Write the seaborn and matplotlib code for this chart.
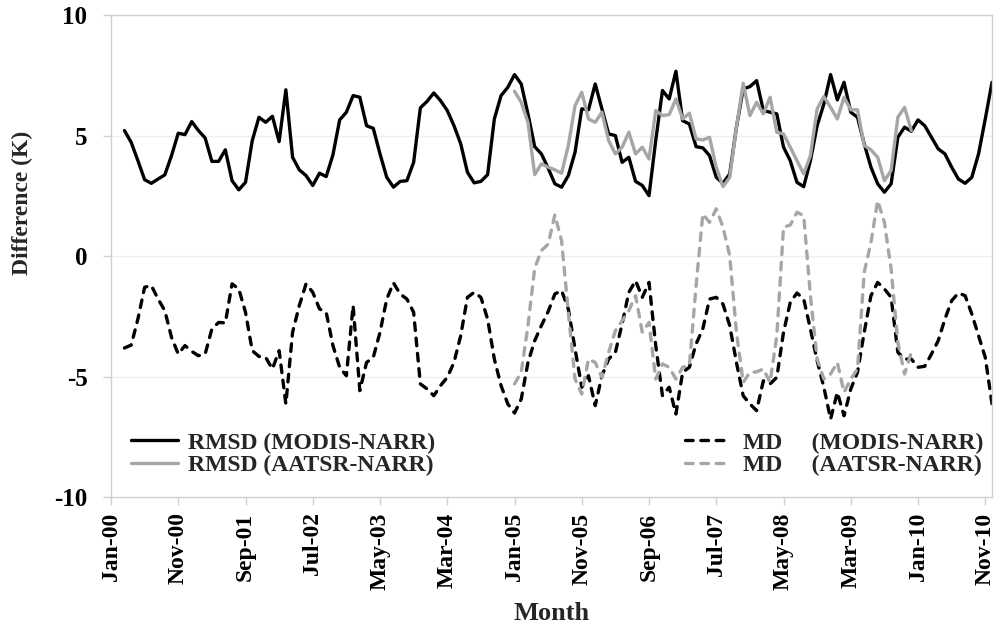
import numpy as np
import pandas as pd
import seaborn as sns
import matplotlib.pyplot as plt

# month index 0 = Jan-00, 131 = Dec-10
tick_pos = list(range(0, 131, 10))
tick_labels = ["Jan-00", "Nov-00", "Sep-01", "Jul-02", "May-03", "Mar-04", "Jan-05",
               "Nov-05", "Sep-06", "Jul-07", "May-08", "Mar-09", "Jan-10", "Nov-10"]

# MODIS series: Mar-00 .. Dec-10
modis_start = 2
modis_rmsd = [5.21, 4.72, 3.96, 3.17, 3.02, 3.20, 3.37, 4.17, 5.10, 5.04,
              5.58, 5.21, 4.90, 3.93, 3.93, 4.41, 3.13, 2.75, 3.06, 4.79,
              5.76, 5.55, 5.80, 4.75, 6.90, 4.10, 3.58, 3.34, 2.93, 3.44,
              3.30, 4.20, 5.65, 5.97, 6.66, 6.59, 5.41, 5.30, 4.24, 3.27,
              2.86, 3.10, 3.13, 3.89, 6.15, 6.42, 6.77, 6.45, 6.04, 5.41,
              4.66, 3.48, 3.04, 3.10, 3.38, 5.69, 6.66, 7.00, 7.53, 7.14,
              5.90, 4.54, 4.24, 3.65, 3.00, 2.86, 3.34, 4.31, 6.11, 6.07,
              7.14, 6.11, 5.07, 5.00, 3.89, 4.10, 3.10, 2.93, 2.51, 4.80,
              6.87, 6.52, 7.67, 5.62, 5.48, 4.54, 4.49, 4.17, 3.27, 3.02,
              3.41, 5.35, 6.94, 7.03, 7.28, 6.04, 5.97, 5.90, 4.52, 3.96,
              3.06, 2.88, 3.96, 5.41, 6.31, 7.53, 6.48, 7.21, 5.97, 5.76,
              4.66, 3.69, 3.00, 2.65, 3.00, 4.93, 5.35, 5.18, 5.65, 5.41,
              4.93, 4.45, 4.24, 3.69, 3.20, 3.02, 3.27, 4.24, 5.69, 7.21]
modis_md = [-3.81, -3.69, -2.61, -1.29, -1.22, -1.78, -2.26, -3.37, -4.06, -3.71,
            -3.95, -4.13, -4.06, -3.02, -2.75, -2.77, -1.15, -1.36, -2.33, -3.92,
            -4.16, -4.20, -4.68, -3.92, -6.13, -3.16, -2.05, -1.15, -1.50, -2.19,
            -2.33, -3.71, -4.61, -4.96, -2.05, -5.58, -4.41, -4.20, -3.16, -1.78,
            -1.11, -1.57, -1.78, -2.33, -5.30, -5.51, -5.79, -5.37, -5.03, -4.41,
            -3.30, -1.71, -1.50, -1.71, -2.61, -4.27, -5.37, -6.13, -6.51, -5.93,
            -4.41, -3.51, -2.88, -2.30, -1.57, -1.43, -2.19, -3.85, -5.44, -4.96,
            -6.20, -4.96, -4.27, -3.99, -2.81, -1.50, -1.02, -1.71, -1.09, -3.71,
            -5.79, -5.44, -6.55, -4.82, -4.61, -3.64, -3.02, -1.78, -1.71, -1.99,
            -2.88, -4.41, -5.79, -6.13, -6.41, -5.17, -5.30, -5.03, -3.16, -1.92,
            -1.53, -1.78, -3.02, -4.34, -5.44, -6.76, -5.65, -6.62, -5.51, -4.82,
            -3.16, -1.64, -1.09, -1.36, -1.71, -3.99, -4.27, -4.27, -4.61, -4.57,
            -4.06, -3.51, -2.61, -1.85, -1.53, -1.64, -2.40, -3.30, -4.20, -6.13]

# AATSR series: Jan-05 .. Dec-09
aatsr_start = 60
aatsr_rmsd = [6.84, 6.38, 5.55, 3.38, 3.83, 3.69, 3.58, 3.44, 4.59, 6.24,
              6.80, 5.69, 5.55, 5.97, 4.79, 4.24, 4.52, 5.14, 4.24, 4.52,
              4.03, 6.04, 5.83, 5.87, 6.52, 5.69, 5.93, 4.86, 4.82, 4.93,
              3.69, 2.88, 3.27, 5.35, 7.17, 5.83, 6.38, 5.90, 6.59, 5.14,
              5.07, 4.52, 3.96, 3.41, 4.17, 6.11, 6.62, 6.17, 5.69, 6.59,
              6.07, 6.07, 4.59, 4.41, 4.10, 3.13, 3.55, 5.76, 6.17, 5.21]
aatsr_md = [-5.30, -4.82, -2.88, -0.50, 0.23, 0.50, 1.71, 0.64, -2.33, -5.10,
            -5.72, -4.27, -4.41, -5.03, -3.99, -3.09, -2.68, -2.26, -1.64, -3.16,
            -2.75, -5.10, -4.47, -4.61, -5.10, -4.61, -4.54, -1.22, 1.75, 1.40,
            1.96, 1.20, 0.02, -3.16, -5.24, -4.82, -4.80, -4.68, -5.24, -3.30,
            1.20, 1.29, 1.82, 1.68, -1.64, -4.27, -5.10, -4.89, -4.41, -5.65,
            -5.10, -4.68, -0.67, 0.57, 2.30, 1.40, -0.53, -3.58, -4.89, -3.99]

modis = pd.DataFrame({"month": np.arange(modis_start, modis_start + len(modis_rmsd)),
                      "rmsd": modis_rmsd, "md": modis_md})
aatsr = pd.DataFrame({"month": np.arange(aatsr_start, aatsr_start + len(aatsr_rmsd)),
                      "rmsd": aatsr_rmsd, "md": aatsr_md})

sns.set_style("white")
plt.rcParams["font.family"] = ["Liberation Serif", "DejaVu Serif"]
plt.rcParams["font.weight"] = "bold"
plt.rcParams["axes.unicode_minus"] = False

fig = plt.figure(figsize=(10, 6.27), dpi=100)
ax = fig.add_axes([0.111, 0.207, 0.881, 0.769])

grey = "#a6a6a6"
dash = (0, (2.3, 2.3))
lw = 2.4

sns.lineplot(data=modis, x="month", y="rmsd", color="black", lw=lw,
             label="RMSD (MODIS-NARR)", ax=ax)
sns.lineplot(data=aatsr, x="month", y="rmsd", color=grey, lw=lw,
             label="RMSD (AATSR-NARR)", ax=ax)
sns.lineplot(data=modis, x="month", y="md", color="black", lw=lw, linestyle=dash,
             dash_capstyle="round", label="MD     (MODIS-NARR)", ax=ax)
sns.lineplot(data=aatsr, x="month", y="md", color=grey, lw=lw, linestyle=dash,
             dash_capstyle="round", label="MD     (AATSR-NARR)", ax=ax)

ax.set_xlim(0, 131)
ax.set_ylim(-10, 10)
ax.set_yticks([-10, -5, 0, 5, 10])
ax.set_xticks(tick_pos)
ax.set_xticklabels(tick_labels, rotation=90)
ax.tick_params(axis="both", labelsize=17, colors="#d0d0d0", labelcolor="black",
               direction="out", length=6, width=1)
ax.tick_params(axis="y", labelsize=18, pad=11, left=True)
ax.tick_params(axis="x", pad=5, bottom=True)
for lab in ax.get_xticklabels() + ax.get_yticklabels():
    lab.set_fontweight("bold")

for v in [-5, 0, 5]:
    ax.axhline(v, color="#efefef", lw=1, zorder=0)
for s in ax.spines.values():
    s.set_color("#d0d0d0")
    s.set_linewidth(1)

ax.set_ylabel("Difference (K)", fontsize=17, fontweight="bold")
ax.yaxis.set_label_coords(-0.088, 0.61)
ax.set_xlabel("Month", fontsize=19, fontweight="bold")
ax.xaxis.set_label_coords(0.5, -0.218)

legend_font = {"size": 17, "weight": "bold"}
handles, labels = ax.get_legend_handles_labels()
leg1 = ax.legend(handles[:2], labels[:2], loc="center left",
                 bbox_to_anchor=(0.0227, 0.089), frameon=False, borderpad=0,
                 borderaxespad=0, handlelength=2.0, handletextpad=0.42,
                 labelspacing=0.05, prop=legend_font)
ax.add_artist(leg1)
ax.legend(handles[2:], labels[2:], loc="center left",
          bbox_to_anchor=(0.6515, 0.089), frameon=False, borderpad=0,
          borderaxespad=0, handlelength=1.85, handletextpad=0.6,
          labelspacing=0.05, prop=legend_font)

fig.savefig("out.png", dpi=100)
